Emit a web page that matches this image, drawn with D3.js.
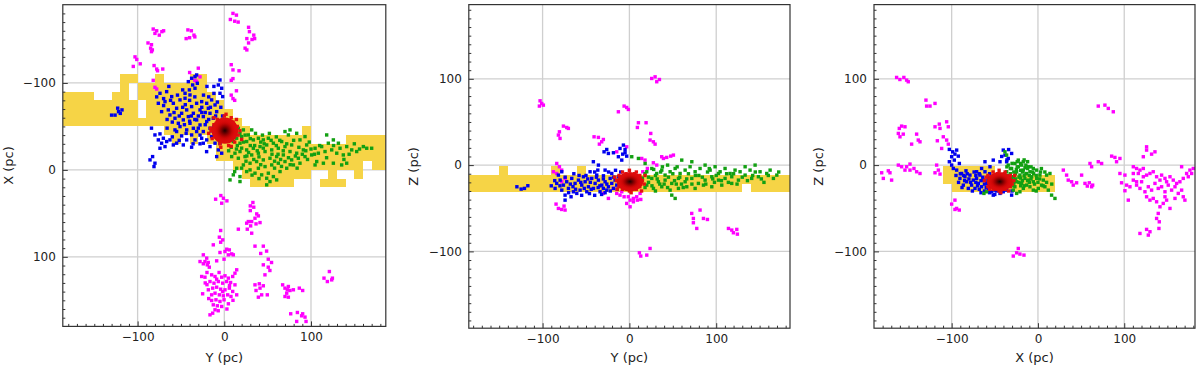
<!DOCTYPE html>
<html>
<head>
<meta charset="utf-8">
<script src="https://cdn.jsdelivr.net/npm/d3@7"></script>
<style>body{margin:0;background:#fff}</style>
</head>
<body>
<div id="chart"></div>
<script>
// ---- data: all values in pc ----
const majorTicks = [-100, 0, 100];
const axisTitles = [['Y (pc)', 'X (pc)'], ['Y (pc)', 'Z (pc)'], ['X (pc)', 'Z (pc)']];

// yellow cells [h0, h1, v0, v1]
const p1Yellow = [
  [-190,-150,-90,-50],[-150,-130,-80,-50],[-130,-120,-90,-50],[-120,-110,-110,-50],
  [-110,-100,-110,-100],[-110,-100,-80,-50],[-100,-90,-100,-80],[-100,-90,-60,-50],
  [-90,-80,-100,-50],[-80,-70,-110,-50],[-70,-40,-100,-40],[-60,-50,-50,-30],
  [-40,-20,-110,-40],[-40,-30,-40,-30],[-20,-10,-90,-30],[-10,0,-80,-10],[0,10,-70,-10],
  [10,20,-60,0],[20,30,-50,10],[30,80,-40,20],[80,90,-40,10],[90,100,-50,10],
  [100,110,-30,0],[110,120,-30,0],[110,140,10,20],[120,130,-30,10],[130,140,-30,0],
  [140,150,-40,0],[150,160,-40,10],[160,170,-40,-10],[170,190,-40,0]
];
const p2Yellow = [
  [-190,130,-31.5,-11.5],[130,140,-21.5,-11.5],[140,190,-31.5,-11.5],
  [-150,-140,-11.5,-1.5],[-90,-80,-11.5,-1.5],[-60,-50,-11.5,-1.5]
];
const p3Yellow = [
  [-110,-100,-21.5,-1.5],[-100,-50,-31.5,-1.5],[-50,20,-31.5,-11.5]
];

// panel 1: [Y, X]
const p1Magenta = [
  [10,-180],[14,-178],[7,-173],[12,-171],[16,-170],
  [28,-164],[29,-159],[34,-155],[26,-151],[32,-150],[28,-146],[35,-151],[24,-140],[26,-138],
  [-82,-162],[-78,-160],[-72,-159],[-70,-160],[-75,-155],[-80,-157],
  [-88,-146],[-84,-144],[-83,-138],[-84,-136],[-85,-140],
  [-42,-161],[-38,-160],[-35,-155],[-34,-153],[-44,-151],[-40,-152],
  [-103,-130],[-101,-127],[-97,-122],[-105,-119],
  [-81,-120],[-78,-116],[-71,-116],[-77,-114],
  [-40,-112],[-30,-117],[-28,-107],[-34,-103],[-32,-102],
  [-82,-103],[-80,-95],[-78,-93],
  [8,-121],[10,-115],[17,-114],[10,-105],[8,-103],
  [14,-91],[8,-86],[10,-82],[12,-80],
  [-4,29.5],[-1,32.6],[-10,33.7],[3,35.6],[-3,38.3],
  [33,37.5],[30,41.4],[34,42.9],[30,46.8],
  [37.4,50.6],[39.3,52.9],[35.4,55.6],[27.7,59.4],[31.6,59.4],[41.2,60.6],[25.8,61.3],[36.6,62.1],
  [30.4,64.4],[26.5,68.2],[31.6,72.8],[16.2,68.2],
  [-4.2,69.7],[-5.7,77.4],[-1.8,80.5],[-4.2,83.2],[-12.7,86.2],
  [2.8,91.2],[5.8,92],[0.8,93.9],[8.5,96.6],[4.6,97.7],[10.4,97.7],[-5,95],[-0.3,102.7],
  [35.4,87.7],[45,87.7],[48.8,93.4],[42,96.1],
  [50.7,102.7],[54.5,106.5],[45,109.2],[50.7,111.9],[52.6,115.7],[46.9,120.7],
  [-24.2,97.7],[-20.3,101.5],[-28,105.4],[-22.3,105.4],[-18.5,106.5],[-24.2,108],[-19.6,109.2],
  [-17.3,111.9],[-8.8,104.6],
  [-26.1,122.6],[-22.3,123.4],[-14.6,120.7],[-10.7,122.6],[-8.8,125.7],[-3,123.4],[0.8,121.8],
  [4.7,124.5],[9.7,122.6],[14.3,114.9],[12.3,118.8],
  [-16.5,128.4],[-11.9,130.3],[-6.9,128.4],[-1.9,130.3],[2.7,128.4],[7.3,129.5],[12.3,132.2],
  [-18.4,137.9],[-13.4,136],[-8.8,134.9],[-4.2,137.2],[0.8,137.9],[5.8,136],[9.7,139.8],[14.3,143.7],
  [-25,142.5],[-14.6,143.7],[-10.7,141.8],[-5.7,143.7],[-1.1,144.8],[3.9,143.7],[7.7,145.6],
  [-14.6,150.2],[-9.6,149.4],[-5,151.3],[-0.3,149.4],[4.7,154],[-12.7,155.2],[-8,156.3],
  [-3,157.1],[-10.7,160.9],[-13.4,164.8],[-16.5,166.7],
  [-20,118],[-6,118],[6,133],[-20,132],[-2,140],[10,150],[-18,148],[-7,162],[3,160],[-22,130],
  [35.4,132.2],[40.4,131],[45,133.3],[41.2,136],[36.6,138.7],[43.1,143.7],[39.3,146.4],[49.6,143.7],
  [67.3,132.2],[70,136],[72.7,137.9],[75.8,138.7],[79.7,137.9],[72,141.8],[70,145.6],[73.9,146.4],
  [86.5,136],[90.4,138.7],[73.9,134.1],
  [76.6,165.5],[84.3,164],[90.4,165.5],[93.1,169.3],[83.5,174.3],[94.3,174.3],[89.2,167.8],
  [121.2,116.9],[115,124.5],[118.9,128.4],[123.9,126.5],[124.7,124.5]
];
const p1Blue = [
  [-130,-63],[-126,-63],[-122,-67],[-118,-69],[-123,-71],[-120,-65],
  [-41.5,-101.5],[-37.7,-105.4],[-33.8,-107.3],[-31.9,-109.2],[-36.5,-97.7],[-40.3,-92],
  [-33.8,-93.9],[-31.1,-99.6],[-45.3,-88.1],[-39.6,-86.2],[-5,-103.4],[-6.9,-97.7],[-3,-93.9],
  [-5,-88.1],[-1.9,-84.3],
  [-74.2,-88.1],[-66.5,-90],[-60.7,-84.3],[-76.1,-76.6],[-68.4,-78.5],[-58.8,-76.6],[-51.1,-80.5],
  [-45.3,-82.4],[-55,-70.9],[-64.6,-69],[-72.3,-67],[-62.7,-63.2],[-56.9,-59.4],[-49.2,-65.1],
  [-43.4,-69],[-37.7,-72.8],[-31.9,-76.6],[-26.1,-78.5],[-20.3,-76.6],[-14.6,-80.5],[-10.7,-74.7],
  [-18.4,-70.9],[-28,-69],[-35.7,-65.1],[-41.5,-61.3],[-47.3,-57.5],[-53,-53.6],[-39.6,-53.6],
  [-31.9,-57.5],[-24.2,-61.3],[-16.5,-65.1],[-8.8,-67],[-12.7,-59.4],[-20.3,-55.6],[-28,-51.7],
  [-35.7,-47.9],[-43.4,-46],[-51.1,-49.8],[-56.9,-46],[-31.9,-44.1],[-24.2,-44.1],[-16.5,-47.9],
  [-8.8,-51.7],[-6.9,-44.1],[-14.6,-38.3],[-20.3,-34.5],[-26.1,-36.4],[-33.8,-34.5],[-37.7,-40.2],
  [-10.7,-30.7],[-5,-34.5],
  [-80,-40.2],[-74.2,-41.4],[-70.3,-36.4],[-76.1,-34.5],[-66.5,-32.6],[-72.3,-30.7],[-62.7,-34.5],
  [-58.8,-28.7],[-68.4,-26.8],[-74.2,-24.9],[-55,-30.7],[-47.3,-28.7],[-37.7,-26.1],[-85.7,-11.5],
  [-82.7,-15.3],[-80,-7.7],[-81.1,-3.8],[-55,-44.1],[-49.2,-39.1],[-43.4,-34.5],
  [-5,-30.7],[-6.9,-23],[-3,-19.2],[-8.8,-15.3],[-16.5,-26.8],[-20.4,-21],[-24.2,-30.7],
  [-22,-66],[-18,-58],[-30,-62],[-12,-50],[-26,-72],[-45,-75],[-60,-55],[-66,-48],[-40,-56],
  [-15,-45],[-28,-40],[-52,-62],
  [-70,-82],[-62,-80],[-54,-86],[-48,-72],[-40,-80],[-34,-84],[-24,-86],[-18,-84],[-12,-88],
  [-8,-78],[-4,-72],[-10,-62],[-22,-52],[-30,-48],[-38,-62],[-46,-52],[-58,-66],[-66,-58],
  [-70,-74],[-78,-84],[-64,-96],[-48,-92],[-20,-96],[-12,-96],[-26,-66],[-34,-58],[-2,-62],
  [-6,-56],[-16,-72],[-44,-42],[-36,-30],[-28,-30],[-60,-38],[-52,-34],[-84,-48]
];
const p1Green = [
  [10.4,-49.8],[16.2,-47.9],[22,-46],[31.6,-46],[27.7,-40.2],[20,-38.3],[14.3,-36.4],[10.4,-32.6],
  [18.1,-30.7],[25.8,-32.6],[33.5,-34.5],[39.3,-36.4],[45,-34.5],[50.8,-36.4],[56.6,-30.7],
  [48.9,-28.7],[41.2,-26.8],[33.5,-24.9],[25.8,-23],[18.1,-21.1],[12.3,-19.2],[8.5,-15.3],
  [16.2,-13.4],[23.9,-15.3],[31.6,-17.2],[39.3,-19.2],[47,-21.1],[54.7,-23],[62.3,-24.9],
  [70,-26.8],[77.7,-28.7],[66.2,-32.6],[73.9,-40.2],[70,-44.1],[75.8,-46],[83.5,-42.1],
  [87.3,-34.5],[93.1,-38.3],[95,-28.7],[91.2,-23],[83.5,-19.2],[75.8,-21.1],[68.1,-17.2],
  [60.4,-15.3],[52.7,-13.4],[45,-11.5],[37.3,-9.6],[29.7,-7.7],[22,-5.7],[14.3,-1.9],[10.4,5.7],
  [18.1,7.7],[29.7,0],[39.3,-1.9],[47,-3.8],[54.7,-5.7],[50.8,3.8],[48.9,9.6],[52.7,13.4],
  [43.1,5.7],[35.4,3.8],[25.8,1.9],[62.3,-7.7],[70,-9.6],[77.7,-11.5],[85.4,-13.4],[93.1,-15.3],
  [100.8,-17.2],[108.5,-19.2],[116.2,-21.1],[123.9,-23],[104.7,-24.9],[112.3,-26.8],[120,-30.7],
  [118.1,-40.2],[125.8,-34.5],[131.6,-30.7],[133.5,-24.9],[141.2,-26.8],[147,-23],[152.7,-21.1],
  [160.4,-26.8],[164.3,-24.9],[170,-24.9],[129.7,-19.2],[137.3,-17.2],[106.6,-9.6],[114.3,-7.7],
  [125.8,-7.7],[135.4,-5.7],[141.2,-7.7],[87.3,-7.7],[79.7,-5.7],[72,-1.9],[64.3,1.9],[56.6,7.7],
  [104.7,-5.7],[6.6,11.5],[18.1,13.4],[48.9,17.2],[60.4,11.5],
  [10,-40],[15,-28],[20,-25],[28,-20],[35,-28],[40,-15],[45,-25],[55,-18],[60,-28],[65,-12],
  [25,-10],[5,-22],[30,-36],[38,-22],[58,-10],[42,-32],
  [12,-44],[18,-42],[24,-40],[36,-42],[44,-40],[52,-42],[60,-38],[64,-34],[72,-30],[80,-34],
  [86,-26],[98,-32],[104,-18],[110,-28],[8,-26],[14,-24],[22,-32],[30,-28],[46,-30],[54,-34],
  [62,-18],[68,-22],[74,-14],[82,-16],[90,-18],[96,-12],[26,-16],[34,-12],[42,-6],[58,-2],
  [66,-4],[76,-6],[20,-2],[32,6],[40,10],[12,2],[84,-2],[118,-14],[126,-28],[144,-18],
  [156,-24],[150,-30],[138,-12],[94,-22],[100,-24]
];
const p1Red = [
  [-15,-45],[-12,-52],[-10,-38],[-8,-58],[-5,-30],[0,-62],[5,-28],[8,-60],[12,-32],[15,-50],
  [16,-40],[-14,-36],[-16,-48],[10,-55],[-3,-55],[6,-36],[0,-48],[3,-42],[-6,-44],[9,-46],
  [-9,-50],[12,-42],[-2,-35],[4,-52],[18,-45],[-18,-42],[14,-58],[-12,-60],[-4,-26],[8,-27],
  [2,-64],[-7,-40],[7,-50],[0,-40],[-11,-44],[11,-38],[20,-35],[-2,-58],[5,-46],[-5,-50]
];

// panel 2: [Y, Z]
const p2Magenta = [
  [25.7,100.4],[29.6,102.3],[34.6,99.2],[31.5,96.6],
  [-102.9,74.5],[-101,71.4],[-99.1,69.5],[-103.7,68.4],
  [-6.1,68.4],[-3.1,66.8],[-1.2,64.5],[-12.7,61.8],
  [-76,45.2],[-72.2,43.6],[-70.3,42.5],[-80.6,38.6],[-81.8,34.8],[-79.9,30.9],
  [10.4,49.1],[9.2,43.6],[19.2,49.1],
  [24.6,36.7],[23.8,29],[27.6,27],[29.6,24.3],
  [-40.7,32.8],[-35.7,32.1],[-30,29.7],[-31.9,27],[-34.6,24.3],
  [37.2,9.7],[43,8.9],[47.6,10.4],[50.7,11.6],[39.2,7.7],
  [-3.1,21.2],[-14.6,15.4],[14.2,7.7],[18,5.8],[27.6,2.7],[31.5,0],[20.7,-3.9],[15.4,-7.7],
  [-83.7,1.9],[-80.6,-1.9],[-78,-5.8],[-83.7,-9.7],[-87.6,-7.7],[-74.1,-15.4],[-78,-19.3],
  [-10.8,-34.8],[-6.1,-36.7],[-1.2,-36.7],[0.8,-40.6],[4.6,-38.6],[9.2,-40.6],[13.1,-39.8],
  [-3.1,-44.4],[0.8,-48.3],[4.6,-42.5],[-8.8,-30.9],[-14.6,-32.8],[-18.4,-27],[12.3,-32.8],[8.4,-36.7],
  [-84.5,-45.2],[-81.8,-50.2],[-75.3,-47.5],[-78,-51.4],[-74.1,-52.1],
  [-24.2,-38.6],[-30,-32.8],
  [71.8,-56],[73.7,-61.8],[81.4,-52.1],[85.3,-61.8],[89.9,-63],[77.6,-73.4],[73.7,-66.8],
  [114.1,-73.4],[117.9,-75.3],[123.7,-74.5],[119.8,-78.4],[124.4,-80],
  [11.5,-101.6],[13.1,-105.4],[20,-104.3],[23.8,-96.6]
];
const p2Blue = [
  [-129.6,-25.1],[-124.7,-27.8],[-120.9,-27],[-117,-23.9],
  [-41.5,3.9],[-35.7,0],[-29.2,15.4],[-26.1,18.1],[-24.2,13.5],[-18.4,14.3],[-10.8,19.3],
  [-12.7,9.7],[-8.8,5.8],[-7.7,12.7],[-5,14.3],[-3.1,10.4],[-6.9,23.2],[-5,18.1],
  [-83.7,-21.2],[-79.8,-17.4],[-76,-23.2],[-72.2,-19.3],[-70.2,-27],[-77.9,-29],[-66.4,-15.4],
  [-62.6,-21.2],[-58.7,-17.4],[-54.9,-23.2],[-51,-19.3],[-47.2,-25.1],[-56.8,-29],[-64.5,-30.9],
  [-74.1,-34.8],[-43.4,-15.4],[-39.5,-21.2],[-35.7,-17.4],[-31.8,-23.2],[-28,-19.3],[-24.2,-25.1],
  [-20.3,-21.2],[-16.5,-17.4],[-18.4,-27],[-26.1,-29],[-33.8,-30.9],[-41.4,-27],[-49.1,-30.9],
  [-53,-13.5],[-37.6,-11.6],[-29.9,-12.4],[-22.2,-15.4],[-14.6,-23.2],[-12.6,-13.5],[-20.3,-9.7],
  [-28,-5.8],[-36.4,-5.8],[-45.3,-7.7],[-67.2,-36.7],[-74.1,-40.6],[-81.8,-11.6],[-77.9,-7.7],
  [-85.6,-27],[-60.6,-32.8],
  [-65,-25],[-50,-12],[-45,-20],[-30,-27],[-10,-20],[-8,-25],[-40,-35],[-55,-35],
  [-80,-24],[-74,-14],[-68,-22],[-62,-28],[-58,-12],[-52,-27],[-48,-16],[-44,-28],[-38,-14],
  [-34,-24],[-30,-16],[-26,-22],[-22,-30],[-18,-14],[-14,-28],[-12,-18],[-6,-14],[-70,-32],
  [-86,-18],[-90,-24],[-64,-10],[-40,-8],[-24,-8],[-16,-6],[-32,-34],[-46,-33],[-56,-20],
  [-36,-26],[-28,-32],[-10,-8]
];
const p2Green = [
  [20,-7.7],[25.8,-3.9],[31.5,-9.7],[37.3,-5.8],[41.1,-11.6],[46.9,-7.7],[52.7,-3.9],[58.4,-9.7],
  [64.2,-5.8],[69.9,-1.9],[75.7,-7.7],[81.4,-3.9],[87.2,0],[93,-5.8],[98.7,-1.9],[104.5,-7.7],
  [110.2,-3.9],[116,-9.7],[121.7,-5.8],[127.5,-7.7],[133.3,-1.9],[139,-5.8],[144.8,0],[150.5,-7.7],
  [25.8,-15.4],[33.4,-19.3],[41.1,-17.4],[48.8,-21.2],[56.5,-15.4],[64.2,-19.3],[71.9,-15.4],
  [79.5,-21.2],[87.2,-17.4],[94.9,-13.5],[102.6,-17.4],[110.2,-15.4],[117.9,-13.5],[125.6,-17.4],
  [133.3,-11.6],[140.9,-15.4],[148.6,-13.5],[158.2,-9.7],[162.1,-5.8],[169.8,-11.6],[165.9,-15.4],
  [20,-23.2],[27.7,-27],[37.3,-25.1],[46.9,-29],[56.5,-27],[66.1,-25.1],[75.7,-27],[85.3,-23.2],
  [94.9,-25.1],[106.4,-23.2],[117.9,-21.2],[48.8,-34.8],[52.7,-38.6],[10.4,7.7],[18.1,1.9],
  [2.7,9.7],[102.6,-9.7],[60.3,5.8],[71.9,3.9],
  [15,-15],[22,-20],[30,-12],[35,-22],[45,-14],[52,-18],[60,-22],[28,-5],[18,-10],[12,-22],
  [38,-2],[55,-2],[68,-10],[80,-12],[90,-8],[98,-20],[112,-10],[130,-14],[145,-8],[155,-20],
  [22,-14],[26,-24],[32,-16],[36,-8],[40,-22],[44,-26],[50,-10],[54,-22],[58,-14],[62,-26],
  [66,-16],[72,-22],[76,-12],[84,-14],[88,-22],[92,-4],[96,-16],[100,-12],[106,-18],[114,-20],
  [120,-10],[124,-22],[136,-18],[142,-12],[152,-16],[160,-12],[172,-8],[44,0],[30,-30],[18,-26]
];
const p2Red = [
  [-15,-18],[-12,-12],[-12,-25],[-8,-8],[-8,-28],[0,-6],[0,-30],[8,-8],[8,-28],[12,-12],
  [12,-25],[15,-18],[-5,-15],[5,-20],[0,-18],[-3,-22],[3,-14],[-10,-20],[10,-16],[-6,-26],
  [6,-10],[17,-22],[-17,-14],[14,-30],[-14,-28],[2,-32],[18,-12],[-4,-10],[4,-27],[-9,-16],[9,-22]
];

// panel 3: [X, Z]
const p3Magenta = [
  [-163.8,101.6],[-160,99.2],[-155.4,101.6],[-152.2,98.5],[-150.3,96.6],
  [-129.8,75.3],[-129,68.4],[-125.1,68.4],[-119.3,71.5],
  [-160.7,42.5],[-158,45.2],[-154.1,44.4],[-161.8,36.7],[-159.9,32.8],[-156.1,35.9],
  [-146.4,24.3],[-140.6,35.9],[-138.7,29],[-136.7,27],
  [-119.3,44.4],[-114.3,47.5],[-105.8,50.2],[-103.9,44.4],[-113.5,42.5],[-116.6,28.2],
  [-109.7,32.8],[-105.8,29],[-103.9,24.3],[-111.6,19.3],
  [-181.1,-8.9],[-173.4,-6.6],[-171.5,-8.9],[-179.2,-15.4],[-169.6,-17.4],[-161.8,0],[-158,-1.9],
  [-152.2,-1.9],[-148.3,-5.8],[-140.6,-7.7],[-154.1,-5.8],[-143.7,-3.9],[-136.7,-9.7],[-148.3,1.2],
  [-117.4,0],[-115.4,-5.8],[-119.3,-8.9],[-113.5,-10.4],
  [-100,-45.2],[-96.2,-40.6],[-94.3,-50.2],[-91.2,-52.1],[-96.2,-51.4],
  [-28.6,-105.4],[-24.7,-101.6],[-22.8,-96.6],[-20.9,-103.1],[-16.2,-104.3],
  [69.9,68.4],[77.6,69.5],[81.5,65.7],[87.3,61.8],
  [29.4,-5.8],[33.2,-11.6],[35.1,-17.4],[39,-19.3],[40.9,-23.2],[44.8,-20.5],[50.6,-11.6],
  [54.5,-21.2],[57.2,-24.3],[59.5,-20.5],[62.2,-25.1],[63.4,-23.2],
  [60.3,1.9],[62.2,-1.9],[69.9,3.9],[73.8,1.9],[85.4,10.4],[89.2,8.9],[91.1,3.9],[95,7.7],
  [95,-9.7],[100.8,-11.6],[96.9,-20.5],[102.7,-23.2],[100.8,-29.7],[106.6,-25.1],[110.5,-1.9],
  [114.3,-3.9],[118.2,-5.8],[122.1,-3.9],[110.5,-9.7],[116.3,-9.7],[122.1,-13.5],[125.9,-11.6],
  [129.8,-9.7],[133.6,-7.7],[137.5,-13.5],[141.4,-17.4],[143.3,-11.6],[147.2,-15.4],[149.1,-19.3],
  [153,-13.5],[156.8,-17.4],[160.7,-21.2],[164.5,-19.3],[168.4,-15.4],[172.3,-9.7],[176.1,-5.8],
  [180,-3.9],[166.5,-1.9],[174.2,-13.5],[178.1,-9.7],[110.5,-17.4],[114.3,-23.2],[118.2,-27],
  [124,-30.9],[127.9,-25.1],[131.7,-29],[135.6,-21.2],[139.4,-27],[143.3,-25.1],[147.2,-30.9],
  [151,-23.2],[154.9,-29],[158.8,-25.1],[162.6,-32.8],[166.5,-29],[125.9,-36.7],[129.8,-40.6],
  [133.6,-38.6],[137.5,-42.5],[141.4,-48.3],[145.2,-44.4],[149.1,-40.6],[153,-50.2],[139.4,-56],
  [137.5,-61.8],[140.6,-65.7],[122.1,9.7],[125.9,17.4],[131.7,12.7],[135.6,15.4],[125.9,21.2],
  [118.2,-79.2],[125.9,-74.5],[129.8,-77.2],[127.9,-81.1],[140.2,-73.4],[114.3,-19.3],[120.1,-19.3],
  [168.4,-36.7],[170.3,-40.6],[158.8,-38.6],[147.2,-36.7],[104.7,-40.6]
];
const p3Blue = [
  [-102.7,18.2],[-98.8,15.4],[-94.2,17.4],[-96.2,12.7],[-100,9.7],[-92.3,10.4],[-102.7,3.9],
  [-96.9,5.8],[-91.1,1.9],[-100,0],[-98.1,-3.9],
  [-94.2,-5.8],[-88.5,-9.7],[-90.4,-15.4],[-84.6,-13.5],[-82.7,-19.3],[-78.8,-11.6],[-74.9,-17.4],
  [-76.9,-23.2],[-71.1,-15.4],[-69.1,-21.2],[-73,-27],[-67.2,-11.6],[-63.3,-17.4],[-65.3,-25.1],
  [-61.4,-7.7],[-59.5,-21.2],[-86.5,-23.2],[-80.7,-27],[-57.6,-27],[-53.7,-30.9],[-49.8,-29],
  [-44,-32.8],[-40.2,-30.9],[-36.3,-29],[-30.5,-34.8],[-51.8,-34.8],[-47.9,-21.2],[-71.1,-7.7],
  [-83.4,-6.6],[-40.2,17.4],[-38.2,11.6],[-34.4,7.7],[-30.5,13.5],[-36.3,3.9],[-44,3.9],
  [-51.8,5.8],[-61.4,3.9],[-55.6,-1.9],[-65.3,-3.9],
  [-78,-20],[-72,-12],[-68,-28],[-62,-22],[-58,-14],[-85,-18],[-66,-18],[-56,-32],
  [-92,-20],[-88,-26],[-82,-10],[-76,-30],[-74,-8],[-70,-24],[-66,-32],[-64,-14],[-60,-26],
  [-56,-10],[-54,-24],[-50,-34],[-80,-16],[-86,-12],[-90,-10],[-95,-12],[-72,-20],[-68,-10],
  [-62,-30],[-58,-18],[-48,-30],[-42,-28],[-30,-30],[-36,6],[-42,10],[-34,18]
];
const p3Green = [
  [-34.4,0],[-30.5,-3.9],[-26.7,1.9],[-22.8,-1.9],[-18.9,0],[-24.7,-7.7],[-20.9,-11.6],[-17,-5.8],
  [-13.1,-9.7],[-9.3,-7.7],[-15.1,-15.4],[-11.2,-17.4],[-7.3,-13.5],[-28.6,-13.5],[-24.7,-19.3],
  [-18.9,-21.2],[-13.1,-23.2],[-5.4,-19.3],[-1.5,-15.4],[2.3,-11.6],[6.2,-17.4],[10,-11.6],
  [13.9,-9.7],[4.2,-23.2],[8.1,-25.1],[12,-29],[15.8,-34.8],[19.7,-38.6],[0.4,-27],[-5.4,-29],
  [-9.3,-25.1],[-17,-27],[-26.7,-25.1],[-32.4,-21.2],[-22.8,5.8],[-17,3.9],[-11.2,-1.9],
  [-5.4,-3.9],[-36.3,11.6],[-38.2,15.4],[-1.5,-5.8],[-28.6,-29],[-36.3,-7.7],[-42.1,-13.5],
  [-24.7,-32.8],[-59.5,-30.9],[-62.6,-32.8],[-20.9,-30.9],
  [-25,-5],[-20,-15],[-15,-3],[-10,-12],[-22,-20],[-28,-8],[-18,-8],[-12,-18],[-30,-15],[-8,-2],
  [-16,-12],[-26,-16],[-20,-24],[-14,0],[-32,-4],[-5,-10],[0,-20],[3,-8],
  [-32,-10],[-30,2],[-28,-20],[-26,-10],[-24,-2],[-22,-14],[-20,-6],[-18,-18],[-16,-24],
  [-14,-10],[-12,-4],[-10,-20],[-8,-16],[-6,-8],[-4,-22],[-2,-12],[2,-16],[6,-24],[10,-20],
  [-24,4],[-20,2],[-16,6],[-12,4],[-28,-24],[-34,-12],[-36,-2],[4,-4],[8,-8],[16,-22],[-2,-30]
];
const p3Red = [
  [-62,-18],[-58,-12],[-58,-25],[-52,-8],[-52,-28],[-45,-6],[-45,-30],[-38,-8],[-38,-28],[-32,-12],
  [-32,-25],[-28,-18],[-50,-15],[-40,-20],[-45,-18],[-48,-22],[-42,-14],[-55,-20],[-35,-16],
  [-51,-26],[-39,-10],[-30,-22],[-60,-14],[-34,-30],[-56,-28],[-43,-32],[-27,-12],[-47,-10],
  [-41,-27],[-54,-16],[-36,-22]
];

// ---- layout ----
const panels = [
  {box: [62.8, 4.7, 385.8, 326.4], h: [-186.3, 186.3], v: [-190, 180], down: true,
   yellow: p1Yellow, magenta: p1Magenta, blue: p1Blue, green: p1Green, red: p1Red, titleX: 13},
  {box: [468.8, 4.6, 790, 328.2], h: [-185, 185], v: [-189, 186], down: false,
   yellow: p2Yellow, magenta: p2Magenta, blue: p2Blue, green: p2Green, red: p2Red, titleX: 418},
  {box: [874, 4.6, 1195, 328.2], h: [-190, 182], v: [-189, 186], down: false,
   yellow: p3Yellow, magenta: p3Magenta, blue: p3Blue, green: p3Green, red: p3Red, titleX: 823}
];

const FONT = '"DejaVu Sans", sans-serif';
const svg = d3.select('#chart').append('svg')
  .attr('width', 1200).attr('height', 370)
  .style('font-family', FONT);

const defs = svg.append('defs');
const core = defs.append('radialGradient').attr('id', 'core');
[[0, '#200000', 1], [0.15, '#4e0000', 1], [0.38, '#8c0000', 0.95], [0.65, '#c40404', 0.75], [1, '#dd0a0a', 0]]
  .forEach(s => core.append('stop').attr('offset', s[0]).attr('stop-color', s[1]).attr('stop-opacity', s[2]));

const S = 3.4; // marker size

panels.forEach((p, i) => {
  const [x0, y0, x1, y1] = p.box;
  const x = d3.scaleLinear().domain(p.h).range([x0, x1]);
  const y = d3.scaleLinear().domain(p.v).range(p.down ? [y0, y1] : [y1, y0]);

  defs.append('clipPath').attr('id', 'clip' + i)
    .append('rect').attr('x', x0).attr('y', y0).attr('width', x1 - x0).attr('height', y1 - y0);

  const g = svg.append('g');
  const plot = g.append('g').attr('clip-path', `url(#clip${i})`);

  // grid
  plot.selectAll('.gx').data(majorTicks).join('line')
    .attr('x1', d => x(d)).attr('x2', d => x(d)).attr('y1', y0).attr('y2', y1)
    .attr('stroke', '#cfcfcf').attr('stroke-width', 1.3);
  plot.selectAll('.gy').data(majorTicks).join('line')
    .attr('y1', d => y(d)).attr('y2', d => y(d)).attr('x1', x0).attr('x2', x1)
    .attr('stroke', '#cfcfcf').attr('stroke-width', 1.3);

  // yellow histogram cells
  plot.append('g').selectAll('rect').data(p.yellow).join('rect')
    .attr('x', d => Math.min(x(d[0]), x(d[1])))
    .attr('width', d => Math.abs(x(d[1]) - x(d[0])))
    .attr('y', d => Math.min(y(d[2]), y(d[3])))
    .attr('height', d => Math.abs(y(d[3]) - y(d[2])))
    .attr('fill', '#f6d446')
    .attr('shape-rendering', 'crispEdges');

  const dots = (data, color) => plot.append('g').selectAll('rect').data(data).join('rect')
    .attr('x', d => x(d[0]) - S / 2).attr('y', d => y(d[1]) - S / 2)
    .attr('width', S).attr('height', S).attr('fill', color);

  dots(p.magenta, '#ff00ff');
  dots(p.blue, '#0000ee');
  dots(p.green, '#12a012');
  dots(p.red, '#e41010');

  // dense core of the red group
  const cx = x(d3.mean(p.red, d => d[0]));
  const cy = y(d3.mean(p.red, d => d[1]));
  const rx = Math.abs(x(d3.deviation(p.red, d => d[0])) - x(0));
  const ry = Math.abs(y(d3.deviation(p.red, d => d[1])) - y(0));
  plot.append('ellipse').attr('cx', cx).attr('cy', cy)
    .attr('rx', rx * 1.5).attr('ry', ry * 1.5).attr('fill', '#dc0c0c');
  plot.append('ellipse').attr('cx', cx).attr('cy', cy)
    .attr('rx', rx * 1.3).attr('ry', ry * 1.3).attr('fill', 'url(#core)');

  // axes, ticks pointing inward
  const minorH = d3.range(-180, 181, 10).filter(t => t > p.h[0] && t < p.h[1] && t % 100 !== 0);
  const minorV = d3.range(-180, 181, 10).filter(t => t > p.v[0] && t < p.v[1] && t % 100 !== 0);
  const fmt = d3.format('d');

  const styleAxis = sel => {
    sel.select('.domain').remove();
    sel.selectAll('line').attr('stroke', '#333').attr('stroke-width', 1);
    sel.selectAll('text').attr('fill', '#222').style('font-size', '12px').style('font-family', FONT);
  };

  g.append('g').attr('transform', `translate(0,${y1})`)
    .call(d3.axisBottom(x).tickValues(minorH).tickSize(-2.5).tickFormat(''))
    .call(styleAxis);
  g.append('g').attr('transform', `translate(0,${y1})`)
    .call(d3.axisBottom(x).tickValues(majorTicks).tickSize(-5).tickPadding(6.5).tickFormat(fmt))
    .call(styleAxis);
  g.append('g').attr('transform', `translate(${x0},0)`)
    .call(d3.axisLeft(y).tickValues(minorV).tickSize(-2.5).tickFormat(''))
    .call(styleAxis);
  g.append('g').attr('transform', `translate(${x0},0)`)
    .call(d3.axisLeft(y).tickValues(majorTicks).tickSize(-5).tickPadding(7).tickFormat(fmt))
    .call(styleAxis);

  // frame
  g.append('rect').attr('x', x0).attr('y', y0).attr('width', x1 - x0).attr('height', y1 - y0)
    .attr('fill', 'none').attr('stroke', '#333').attr('stroke-width', 1.2);

  // titles
  g.append('text').attr('x', (x0 + x1) / 2).attr('y', 362)
    .attr('text-anchor', 'middle').attr('fill', '#222').style('font-size', '13px')
    .text(axisTitles[i][0]);
  g.append('text')
    .attr('transform', `translate(${p.titleX},${(y0 + y1) / 2}) rotate(-90)`)
    .attr('text-anchor', 'middle').attr('fill', '#222').style('font-size', '13px')
    .text(axisTitles[i][1]);
});
</script>
</body>
</html>
